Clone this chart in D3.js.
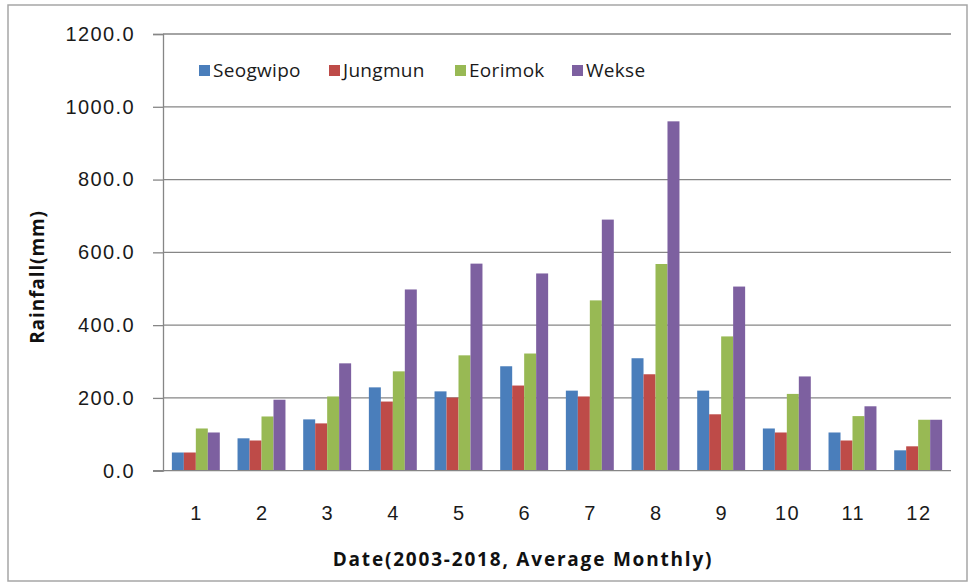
<!DOCTYPE html>
<html>
<head>
<meta charset="utf-8">
<script src="https://cdn.jsdelivr.net/npm/d3@7"></script>
<style>
  body { margin: 0; background: #fff; }
  svg { display: block; font-family: "Open Sans", "Liberation Sans", sans-serif; }
</style>
</head>
<body>
<script>
// monthly average rainfall, 2003-2018
var months = ["1","2","3","4","5","6","7","8","9","10","11","12"];
var stations = ["Seogwipo","Jungmun","Eorimok","Wekse"];
var seogwipo = [50, 89, 141, 229, 218, 287, 220, 309, 220, 116, 105, 56];
var jungmun  = [50, 83, 130, 190, 201, 234, 204, 265, 155, 105, 83, 67];
var eorimok  = [116, 149, 204, 273, 317, 322, 468, 568, 369, 211, 150, 140];
var wekse    = [105, 195, 295, 498, 569, 542, 690, 960, 506, 259, 177, 140];
var yTicks = [0, 200, 400, 600, 800, 1000, 1200];
var colors = ["#4a7ebb", "#be4b48", "#98b954", "#7d60a0"];

var series = [seogwipo, jungmun, eorimok, wekse];

var width = 970, height = 583;
var svg = d3.select("body").append("svg")
    .attr("width", width)
    .attr("height", height);

// outer frame
svg.append("rect")
  .attr("x", 8).attr("y", 5)
  .attr("width", 959).attr("height", 576)
  .attr("fill", "none")
  .attr("stroke", "#a6a6a6")
  .attr("stroke-width", 1.5);

var plotLeft = 163, plotRight = 951, plotTop = 34, plotBottom = 470.7;

var x0 = d3.scaleBand()
  .domain(months)
  .range([plotLeft, plotRight])
  .paddingInner(0.27)
  .paddingOuter(0.135);

var x1 = d3.scaleBand()
  .domain(stations)
  .range([0, x0.bandwidth()]);

var y = d3.scaleLinear()
  .domain([0, 1200])
  .range([plotBottom, plotTop]);

// gridlines
svg.append("g")
  .selectAll("line")
  .data(yTicks.slice(1))
  .enter().append("line")
    .attr("x1", plotLeft).attr("x2", plotRight)
    .attr("y1", function(d) { return y(d); })
    .attr("y2", function(d) { return y(d); })
    .attr("stroke", "#868686")
    .attr("stroke-width", 1.3);

// y axis
var yAxis = d3.axisLeft(y)
  .tickValues(yTicks)
  .tickSize(10)
  .tickPadding(18)
  .tickFormat(d3.format(".1f"));

var yg = svg.append("g")
  .attr("transform", "translate(" + plotLeft + ",0)")
  .call(yAxis);
yg.select(".domain").attr("stroke", "#868686").attr("stroke-width", 1.3);
yg.selectAll(".tick line").attr("stroke", "#868686").attr("stroke-width", 1.3);
yg.selectAll(".tick text")
  .attr("fill", "#1a1a1a")
  .style("font-size", "20px")
  .style("letter-spacing", "1.4px");

// bars
var groups = svg.append("g")
  .selectAll("g")
  .data(months)
  .enter().append("g")
    .attr("transform", function(d) { return "translate(" + x0(d) + ",0)"; });

groups.selectAll("rect")
  .data(function(d, i) {
    return stations.map(function(s, j) { return { station: s, value: series[j][i], idx: j }; });
  })
  .enter().append("rect")
    .attr("x", function(d) { return x1(d.station); })
    .attr("width", x1.bandwidth())
    .attr("y", function(d) { return y(d.value); })
    .attr("height", function(d) { return y(0) - y(d.value); })
    .attr("fill", function(d) { return colors[d.idx]; });

// x axis (baseline only, no ticks)
var xAxis = d3.axisBottom(x0).tickSize(0).tickPadding(35);
var xg = svg.append("g")
  .attr("transform", "translate(0," + plotBottom + ")")
  .call(xAxis);
xg.select(".domain").attr("stroke", "#868686").attr("stroke-width", 1.3)
  .attr("d", "M" + (plotLeft - 10) + ",0H" + plotRight);
xg.selectAll(".tick text")
  .attr("fill", "#1a1a1a")
  .attr("dx", "0.7px")
  .style("font-size", "20px")
  .style("letter-spacing", "1.4px");

// axis titles
svg.append("text")
  .attr("transform", "translate(44,277) rotate(-90)")
  .attr("text-anchor", "middle")
  .attr("fill", "#111")
  .style("font-size", "19px")
  .style("font-weight", "bold")
  .style("letter-spacing", "0.9px")
  .text("Rainfall(mm)");

svg.append("text")
  .attr("x", 523).attr("y", 566)
  .attr("text-anchor", "middle")
  .attr("fill", "#111")
  .style("font-size", "19px")
  .style("font-weight", "bold")
  .style("letter-spacing", "1.8px")
  .text("Date(2003-2018, Average Monthly)");

// legend
var legendX = [199, 329, 455, 572];
var legend = svg.append("g")
  .selectAll("g")
  .data(stations)
  .enter().append("g")
    .attr("transform", function(d, i) { return "translate(" + legendX[i] + ",65)"; });

legend.append("rect")
  .attr("width", 11).attr("height", 11)
  .attr("fill", function(d, i) { return colors[i]; });

legend.append("text")
  .attr("x", 14).attr("y", 12)
  .attr("fill", "#1a1a1a")
  .style("font-size", "19px")
  .style("letter-spacing", "0.3px")
  .text(function(d) { return d; });
</script>
</body>
</html>
